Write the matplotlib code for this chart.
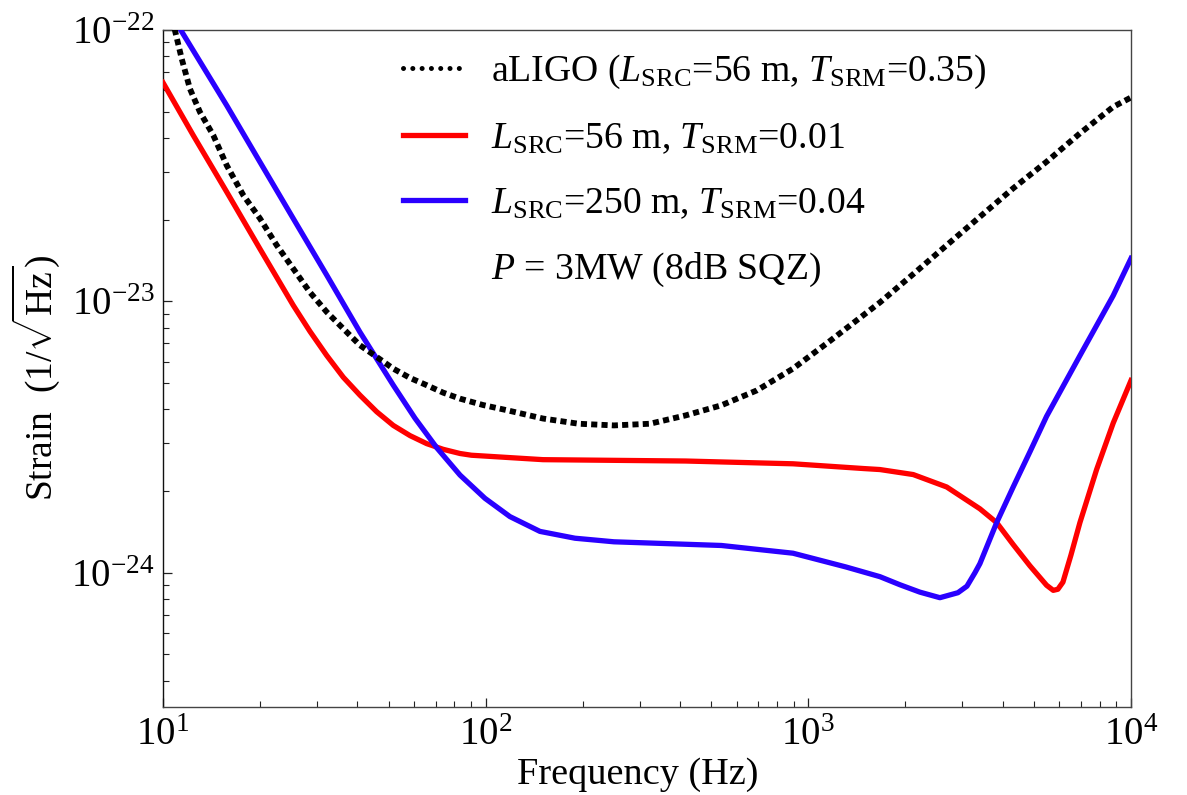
import matplotlib
matplotlib.use("Agg")
import matplotlib.pyplot as plt
from matplotlib.lines import Line2D
from matplotlib.ticker import LogLocator, NullFormatter, FixedLocator

plt.rcParams['font.family'] = ['Liberation Serif', 'DejaVu Serif']
plt.rcParams['mathtext.fontset'] = 'custom'
plt.rcParams['mathtext.rm'] = 'Liberation Serif'
plt.rcParams['mathtext.it'] = 'Liberation Serif:italic'
plt.rcParams['mathtext.bf'] = 'Liberation Serif:bold'

# ---- data ----
aligo_f = [10.0, 10.89, 11.43, 12.12, 13.02, 14.32, 15.76, 17.74, 19.98, 22.51, 25.33,
           28.54, 32.16, 36.21, 40.78, 45.94, 51.72, 58.3, 65.65, 73.8, 83.27, 98.1,
           116.4, 150.5, 194.1, 249.8, 322.9, 416.8, 537.7, 693.1, 896.3, 1155, 1667,
           2114, 2684, 3402, 4314, 5475, 6945, 8807, 10000]
aligo_h = [1.5e-22, 9.96e-23, 7.83e-23, 6.07e-23, 4.98e-23, 4.09e-23, 3.17e-23, 2.46e-23,
           2.02e-23, 1.61e-23, 1.32e-23, 1.08e-23, 9.14e-24, 7.93e-24, 6.89e-24, 6.24e-24,
           5.65e-24, 5.22e-24, 4.91e-24, 4.61e-24, 4.38e-24, 4.15e-24, 3.97e-24, 3.70e-24,
           3.54e-24, 3.49e-24, 3.54e-24, 3.80e-24, 4.14e-24, 4.70e-24, 5.65e-24, 7.08e-24,
           9.91e-24, 1.26e-23, 1.61e-23, 2.05e-23, 2.61e-23, 3.27e-23, 4.16e-23, 5.21e-23,
           5.64e-23]

red_f = [10, 12.41, 15.76, 19.98, 25.33, 28.54, 32.16, 36.21, 40.78, 45.94, 51.72, 58.3,
         65.65, 73.8, 83.27, 90.3, 150.5, 416.8, 896.3, 1487, 1667, 2114, 2684, 3402, 3834,
         4314, 4862, 5475, 5742, 5934, 6152, 6513, 6945, 7824, 8807, 10000]
red_h = [6.4e-23, 4.09e-23, 2.53e-23, 1.56e-23, 9.67e-24, 7.75e-24, 6.32e-24, 5.25e-24,
         4.51e-24, 3.92e-24, 3.49e-24, 3.20e-24, 2.99e-24, 2.85e-24, 2.75e-24, 2.71e-24,
         2.61e-24, 2.58e-24, 2.52e-24, 2.42e-24, 2.40e-24, 2.30e-24, 2.07e-24, 1.72e-24,
         1.53e-24, 1.27e-24, 1.06e-24, 8.99e-25, 8.61e-25, 8.69e-25, 9.23e-25, 1.16e-24,
         1.53e-24, 2.40e-24, 3.56e-24, 5.11e-24]

blue_f = [10, 11.29, 15.76, 19.98, 25.33, 32.16, 40.78, 51.72, 60.39, 70.66, 83.27, 99.5,
          118.9, 147.3, 189.2, 249.8, 537.7, 896.3, 1308, 1667, 1922, 2217, 2557, 2908,
          3101, 3284, 3402, 3834, 4314, 4862, 5475, 6945, 8807, 10000]
blue_h = [1.28e-22, 1.01e-22, 5.27e-23, 3.26e-23, 2.02e-23, 1.25e-23, 7.70e-24, 4.91e-24,
          3.71e-24, 2.88e-24, 2.29e-24, 1.88e-24, 1.61e-24, 1.42e-24, 1.34e-24, 1.30e-24,
          1.26e-24, 1.18e-24, 1.05e-24, 9.67e-25, 9.03e-25, 8.48e-25, 8.09e-25, 8.44e-25,
          8.92e-25, 1.00e-24, 1.08e-24, 1.53e-24, 2.07e-24, 2.79e-24, 3.77e-24, 6.31e-24,
          1.05e-23, 1.44e-23]

labels = [r'aLIGO ($L_{\mathrm{SRC}}$=56 m, $T_{\mathrm{SRM}}$=0.35)',
          r'$L_{\mathrm{SRC}}$=56 m, $T_{\mathrm{SRM}}$=0.01',
          r'$L_{\mathrm{SRC}}$=250 m, $T_{\mathrm{SRM}}$=0.04',
          r'$P$ = 3MW (8dB SQZ)']

xticks = [10, 100, 1000, 10000]
yticks = [1e-24, 1e-23, 1e-22]
xlim = (10, 1e4)
ylim = (3.2e-25, 1e-22)

RED = '#ff0000'
BLUE = '#2a00ff'

# ---- figure ----
fig = plt.figure(figsize=(11.87, 7.95), dpi=100)
ax = fig.add_axes([163/1187, 1-707/795, (1131-163)/1187, (707-30)/795])

ax.plot(red_f, red_h, color=RED, lw=3.8, solid_joinstyle='round', zorder=3)
ax.plot(blue_f, blue_h, color=BLUE, lw=3.8, solid_joinstyle='round', zorder=3)
ax.plot(aligo_f, aligo_h, color='black', lw=4.2, linestyle=(0, (1.05, 0.72)),
        dash_capstyle='butt', zorder=4)

ax.set_xscale('log')
ax.set_yscale('log')
ax.set_xlim(*xlim)
ax.set_ylim(*ylim)

for s in ax.spines.values():
    s.set_color('#444444')
    s.set_linewidth(1.0)
ax.spines['left'].set_color('#111111')

ax.xaxis.set_major_locator(FixedLocator(xticks))
ax.yaxis.set_major_locator(FixedLocator(yticks))
ax.xaxis.set_minor_locator(LogLocator(base=10, subs=range(2, 10), numticks=100))
ax.yaxis.set_minor_locator(LogLocator(base=10, subs=range(2, 10), numticks=100))
ax.xaxis.set_minor_formatter(NullFormatter())
ax.yaxis.set_minor_formatter(NullFormatter())
ax.tick_params(which='both', direction='in', top=False, right=False, color='#222222')
ax.tick_params(which='major', length=6.5, width=0.9, labelsize=28)
ax.tick_params(which='minor', length=4, width=0.8, labelleft=False, labelbottom=False)
ax.tick_params(axis='x', which='major', pad=7)
ax.tick_params(axis='y', which='major', pad=6)

ax.set_xlabel('Frequency (Hz)', fontsize=27.5)
ax.xaxis.set_label_coords(0.490, -0.075)
ax.set_ylabel(r'Strain  $(1/\sqrt{\mathrm{Hz}})$', fontsize=27)
ax.yaxis.set_label_coords(-0.104, 0.486)

handles = [Line2D([], [], color='black', lw=3.6, linestyle=(0, (0.01, 1.85)),
                  dash_capstyle='round'),
           Line2D([], [], color=RED, lw=3.8),
           Line2D([], [], color=BLUE, lw=3.8),
           Line2D([], [], color='none', lw=0)]
leg = ax.legend(handles, labels, loc='upper left', bbox_to_anchor=(0.248, 0.966),
                frameon=False, fontsize=27.2, handlelength=1.65, handletextpad=0.68,
                labelspacing=0.8, borderaxespad=0, borderpad=0)

fig.savefig('out.png', dpi=100)
